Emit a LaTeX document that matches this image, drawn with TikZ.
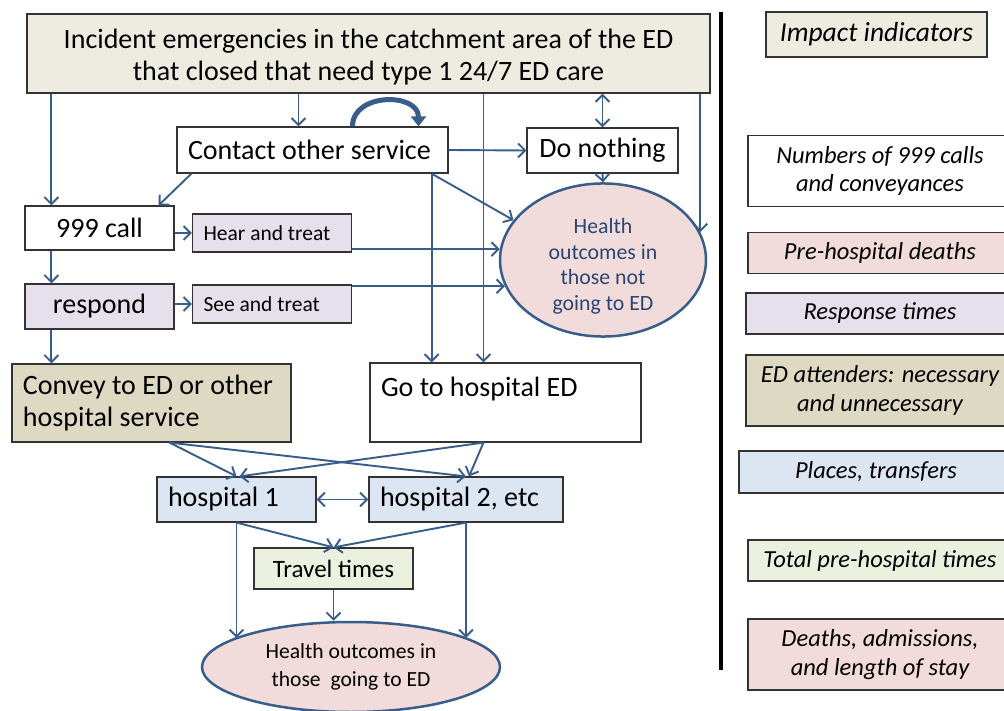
\documentclass[tikz,border=0pt]{standalone}
\usepackage{fontspec}
\setmainfont{Carlito}
\usetikzlibrary{arrows.meta, shapes.geometric, calc}
\definecolor{cLine}{RGB}{56,93,138}
\definecolor{cText}{RGB}{40,70,115}
\definecolor{cBeige}{RGB}{238,236,225}
\definecolor{cTan}{RGB}{221,217,195}
\definecolor{cLilac}{RGB}{229,224,236}
\definecolor{cPink}{RGB}{242,220,219}
\definecolor{cBlue}{RGB}{220,230,242}
\definecolor{cGreen}{RGB}{235,241,222}
\tikzset{
	box/.style     ={rectangle, draw=black!80, line width=1.2pt, inner xsep=11pt, inner ysep=0pt, align=center, font=\fontsize{28}{32}\selectfont},
	small/.style   ={font=\fontsize{21.5}{25}\selectfont},
	outcome/.style ={ellipse, draw=cLine, line width=2.5pt, fill=cPink, inner sep=0pt, align=center, text=cText},
	indic/.style   ={rectangle, draw=black!80, line width=1.2pt, minimum width=264pt, align=center, font=\fontsize{24.5}{28.5}\selectfont\itshape},
	flow/.style    ={-{Straight Barb[length=7pt, width=14pt]}, cLine, line width=1.9pt},
	flowboth/.style={{Straight Barb[length=7pt, width=14pt]}-{Straight Barb[length=7pt, width=14pt]}, cLine, line width=1.9pt},
}
\begin{document}
\begin{tikzpicture}[x=1pt, y=-1pt]
	\fill[white] (0,0) rectangle (1004,711);
	\useasboundingbox (0,0) rectangle (1004,711);
	% ---- pathway ----
	\node[box, fill=cBeige, minimum width=683pt, minimum height=79pt] (top) at (368.5,53.5) {\rule{0pt}{26pt}Incident emergencies in the catchment area of the ED\\ that closed that need type 1 24/7 ED care};
	\node[box, text width=249pt, align=flush left, minimum height=46pt] (contact) at (312.5,150) {Contact other service};
	\node[box, minimum width=151pt, minimum height=45pt] (nothing) at (602.5,150.5) {Do nothing};
	\node[box, minimum width=149pt, minimum height=44pt] (call) at (99.5,228) {999 call};
	\node[box, small, fill=cLilac, text width=137pt, align=flush left, minimum height=38pt] (hear) at (272,233) {Hear and treat};
	\node[box, fill=cLilac, minimum width=149pt, minimum height=45pt] (respond) at (99.5,306.5) {respond};
	\node[box, small, fill=cLilac, text width=137pt, align=flush left, minimum height=38pt] (see) at (272,304) {See and treat};
	\node[outcome, minimum width=206pt, minimum height=130pt, font=\fontsize{21.8}{25.5}\selectfont] (notED) at (603,260) {\rule{0pt}{28pt}Health\\ outcomes in\\ those not\\ going to ED};
	\node[box, fill=cTan, text width=257pt, align=flush left, minimum height=78pt] (convey) at (151.5,403) {Convey to ED or other\\ hospital service};
	\node[box, text width=249pt, align=flush left, minimum height=79pt] (goto) at (505.5,402.5) {Go to hospital ED\\ ~};
	\node[box, fill=cBlue, text width=137pt, align=flush left, minimum height=45pt] (hosp1) at (236.5,499.5) {hospital 1};
	\node[box, fill=cBlue, text width=172pt, align=flush left, minimum height=45pt] (hosp2) at (466,499.5) {hospital 2, etc};
	\node[box, fill=cGreen, minimum width=159pt, minimum height=41pt, font=\fontsize{25}{29}\selectfont] (travel) at (333.5,568.5) {Travel times};
	\node[outcome, text=black, minimum width=298pt, minimum height=90pt, font=\fontsize{21.6}{28}\selectfont] (goingED) at (351,667) {Health outcomes in\\ those~ going to ED};
	% ---- connectors ----
	\draw[flow] ([xshift=25pt]top.south west) -- ([xshift=27pt]call.north west);
	\draw[flow] ([xshift=-14pt]contact.north |- top.south) -- ([xshift=-14pt]contact.north);
	\draw[flow] ([xshift=-22pt]goto.north |- top.south) -- ([xshift=-22pt]goto.north);
	\draw[flowboth] (nothing.north |- top.south) -- (nothing.north);
	\draw[flow] (top.south -| notED.16) -- (notED.16);
	\draw[cLine, line width=5pt, -{Triangle[length=10pt, width=15pt]}] ([xshift=40pt]contact.north) .. controls +(0,-34) and +(0,-34) .. ([xshift=106pt]contact.north);
	\draw[flow] ([xshift=15pt]contact.south west) -- ([xshift=-16pt]call.north east);
	\draw[flow] (contact.east) -- (nothing.west);
	\draw[flow] ([xshift=-17pt]contact.south east) -- ([xshift=-17pt]contact.south east |- goto.north);
	\draw[flow] ([xshift=-17pt]contact.south east) -- (notED.156);
	\draw[flow] (nothing.south) -- (notED.north);
	\draw[flow] (call.east |- hear.west) -- (hear.west);
	\draw[flow] ([xshift=27pt]call.south west) -- ([xshift=27pt]respond.north west);
	\draw[flow] (respond.east |- see.west) -- (see.west);
	\draw[flow] ([xshift=27pt]respond.south west) -- ([xshift=27pt]respond.south west |- convey.north);
	\draw[flow] (hear.east |- notED.174) -- (notED.174);
	\draw[flow] (see.east |- notED.195) -- (notED.195);
	\draw[flow] ([xshift=18pt]convey.south) -- (hosp1.north);
	\draw[flow] ([xshift=18pt]convey.south) -- (hosp2.north);
	\draw[flow] ([xshift=-22pt]goto.south) -- ([xshift=3pt]hosp1.north);
	\draw[flow] ([xshift=-22pt]goto.south) -- ([xshift=3pt]hosp2.north);
	\draw[flowboth] (hosp1.east) -- (hosp2.west);
	\draw[flow] (hosp1.south) -- (travel.north);
	\draw[flow] (hosp2.south) -- (travel.north);
	\draw[flow] (hosp1.south) -- (hosp1.south |- goingED.166);
	\draw[flow] (hosp2.south) -- (hosp2.south |- goingED.14);
	\draw[flow] (travel.south) -- (travel.south |- goingED.north);
	% ---- indicators ----
	\draw[line width=4pt] (721,12) -- (721,670);
	\node[indic, fill=cBeige, minimum width=221pt, minimum height=45pt, font=\fontsize{27.5}{32}\selectfont\itshape] (impact) at (876.5,34.5) {Impact indicators};
	\node[indic, fill=white, minimum height=71pt] (numbers) at (880,171) {Numbers of 999 calls\\ and conveyances};
	\node[indic, fill=cPink, minimum height=41pt] (prehosp) at (880,253) {Pre-hospital deaths};
	\node[indic, fill=cLilac, minimum width=268pt, minimum height=41pt] (resptime) at (880,313.5) {Response times};
	\node[indic, fill=cTan, minimum width=268pt, minimum height=71pt] (attend) at (880,390.5) {ED attenders: necessary\\ and unnecessary};
	\node[indic, fill=cBlue, minimum width=274pt, minimum height=42pt] (places) at (876,472) {Places, transfers};
	\node[indic, fill=cGreen, minimum height=41pt] (total) at (880,560.5) {Total pre-hospital times};
	\node[indic, fill=cPink, minimum height=71pt] (deaths) at (880,654.5) {Deaths, admissions,\\ and length of stay};
\end{tikzpicture}
\end{document}
